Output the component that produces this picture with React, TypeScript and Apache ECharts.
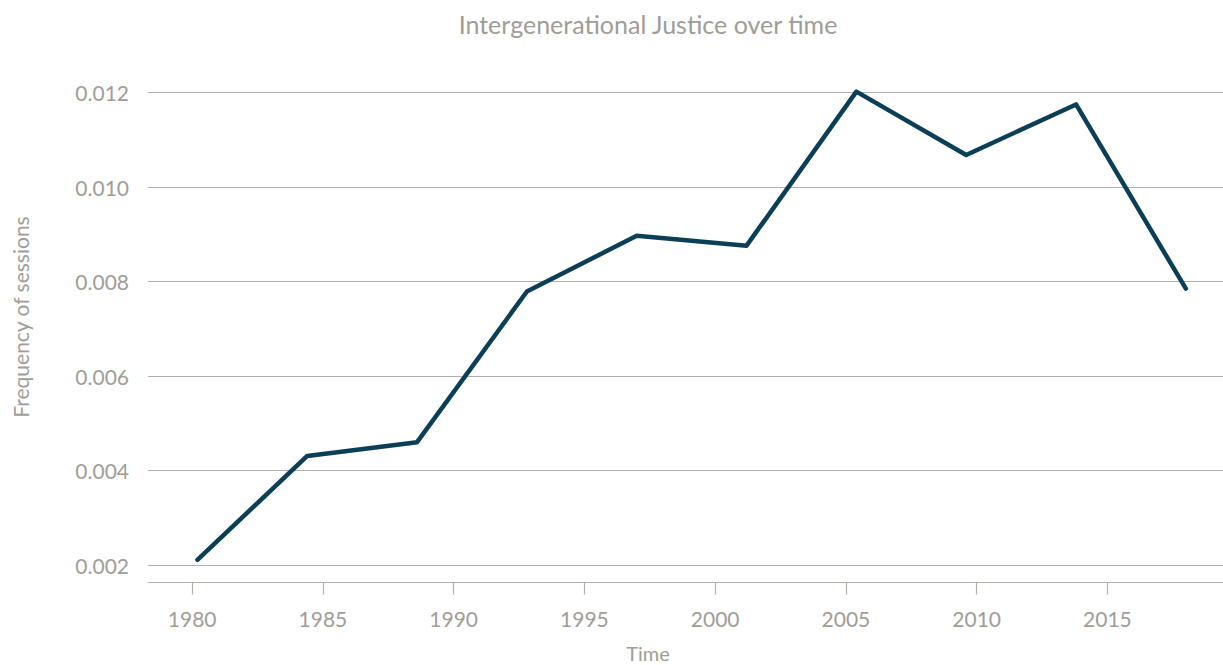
import React, { useEffect, useRef } from "react";
import * as echarts from "echarts";

const titleText = "Intergenerational Justice over time";
const xAxisTitle = "Time";
const yAxisTitle = "Frequency of sessions";

const years = [1980.2, 1984.4, 1988.6, 1992.8, 1997.0, 2001.2, 2005.4, 2009.6, 2013.8, 2018.0];
const frequency = [0.00211, 0.00431, 0.0046, 0.00779, 0.00897, 0.00876, 0.01202, 0.01068, 0.01175, 0.00785];

const xTicks = [1980, 1985, 1990, 1995, 2000, 2005, 2010, 2015];
const yTicks = [0.002, 0.004, 0.006, 0.008, 0.01, 0.012];

const TEXT = "#a09d97";
const GRID = "#b3b0a9";
const LINE = "#0b3f57";
const FONT = "Lato, 'Noto Sans', sans-serif";

export default function App() {
  const ref = useRef<HTMLDivElement>(null);

  useEffect(() => {
    if (!ref.current) return;
    const chart = echarts.init(ref.current, undefined, { renderer: "svg" });
    chart.setOption({
      animation: false,
      backgroundColor: "#ffffff",
      textStyle: { fontFamily: FONT },
      grid: { left: 148, right: 0, top: 69, height: 513.5, containLabel: false },
      graphic: [
        {
          type: "text",
          x: 648,
          y: 24,
          style: {
            text: titleText,
            fill: TEXT,
            font: `25px ${FONT}`,
            textAlign: "center",
            textVerticalAlign: "middle",
          },
        },
        {
          type: "text",
          x: 648,
          y: 653,
          style: {
            text: xAxisTitle,
            fill: TEXT,
            font: `20px ${FONT}`,
            textAlign: "center",
            textVerticalAlign: "middle",
          },
        },
        {
          type: "text",
          x: 20,
          y: 317,
          rotation: Math.PI / 2,
          style: {
            text: yAxisTitle,
            fill: TEXT,
            font: `21px ${FONT}`,
            textAlign: "center",
            textVerticalAlign: "middle",
          },
        },
      ],
      xAxis: {
        type: "value",
        min: 1978.31,
        max: 2019.42,
        axisLine: { show: true, lineStyle: { color: GRID, width: 1.2 } },
        axisTick: {
          show: true,
          length: 12,
          inside: false,
          customValues: xTicks,
          lineStyle: { color: GRID, width: 1.2 },
        },
        axisLabel: {
          customValues: xTicks,
          color: TEXT,
          fontSize: 21,
          fontFamily: FONT,
          margin: 25,
          formatter: (v: number) => String(Math.round(v)),
        },
        splitLine: { show: false },
      },
      yAxis: {
        type: "value",
        min: 0.00163,
        max: 0.0125,
        axisLine: { show: false },
        axisTick: { show: false, customValues: yTicks },
        axisLabel: {
          customValues: yTicks,
          color: TEXT,
          fontSize: 21,
          fontFamily: FONT,
          margin: 19,
          formatter: (v: number) => v.toFixed(3),
        },
        splitLine: {
          show: true,
          showMinLine: true,
          showMaxLine: true,
          lineStyle: { color: GRID, width: 1.2 },
        },
      },
      series: [
        {
          type: "line",
          data: years.map((y, i) => [y, frequency[i]]),
          showSymbol: false,
          symbol: "none",
          lineStyle: { color: LINE, width: 4.5, cap: "round", join: "round" },
        },
      ],
    });
    return () => chart.dispose();
  }, []);

  return (
    <div
      ref={ref}
      style={{ position: "fixed", left: 0, top: 0, width: 1223, height: 665 }}
    />
  );
}
